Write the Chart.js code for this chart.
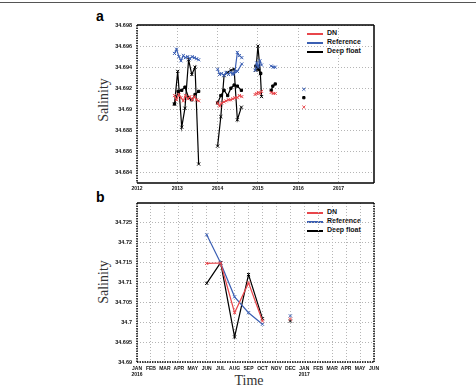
<!DOCTYPE html>
<html>
<head>
<meta charset="utf-8">
<script src="https://cdn.jsdelivr.net/npm/chart.js@4.4.1/dist/chart.umd.min.js"></script>
<style>
    body { margin: 0; background: #fff; }
    #wrap { position: relative; width: 476px; height: 388px; overflow: hidden; background: #fff; }
    canvas { position: absolute; left: 0; }
    .rule { position: absolute; left: 0; top: 2px; width: 476px; height: 1px; background: #555; }
    .panel { position: absolute; font: bold 14px 'Liberation Sans', Arial, sans-serif; color: #000; }
    .ytitle { position: absolute; width: 80px; text-align: center; font: 14px 'Liberation Serif', 'DejaVu Serif', serif; color: #333; transform: rotate(-90deg); }
    .xtitle { position: absolute; width: 80px; text-align: center; font: 14px 'Liberation Serif', 'DejaVu Serif', serif; color: #333; }
    .leg { position: absolute; left: 307px; width: 330px; height: 10px; }
    .leg i { position: absolute; left: 0; top: 4px; width: 16px; height: 2px; }
    .leg span { position: absolute; left: 20px; top: 0; line-height: 10px; font: bold 7px 'Liberation Sans', Arial, sans-serif; color: #111; }
</style>
</head>
<body>
<div id="wrap">
    <div class="rule"></div>
    <div class="panel" style="left:96px;top:8px;">a</div>
    <div class="panel" style="left:96px;top:189px;">b</div>
    <div class="ytitle" style="left:64px;top:92px;">Salinity</div>
    <div class="ytitle" style="left:64px;top:274px;">Salinity</div>
    <div class="xtitle" style="left:209px;top:373px;">Time</div>

    <div class="leg" style="top:29px;"><i style="background:#e8464b"></i><span>DN</span></div>
    <div class="leg" style="top:38px;"><i style="background:#3b5fb3"></i><span>Reference</span></div>
    <div class="leg" style="top:47px;"><i style="background:#000"></i><span>Deep float</span></div>

    <div class="leg" style="top:208px;"><i style="background:#e8464b"></i><span>DN</span></div>
    <div class="leg" style="top:217px;"><i style="background:#3b5fb3"></i><span>Reference</span></div>
    <div class="leg" style="top:226px;"><i style="background:#000"></i><span>Deep float</span></div>

    <canvas id="chartA" width="476" height="194" style="top:0;"></canvas>
    <canvas id="chartB" width="476" height="194" style="top:194px;"></canvas>
</div>

<script>
// ---- panel a : yearly series (null = gap between deployments) ----
const yearTicks = [2012, 2013, 2014, 2015, 2016, 2017];
const salTicksA = [34.684, 34.686, 34.688, 34.69, 34.692, 34.694, 34.696, 34.698];

const dnTime = [2012.93, 2012.98, 2013.04, 2013.09, 2013.15, 2013.2, 2013.26, 2013.31, 2013.37, 2013.42, 2013.48, 2013.53, null,
    2014.0, 2014.05, 2014.1, 2014.16, 2014.21, 2014.27, 2014.32, 2014.38, 2014.43, 2014.49, 2014.54, 2014.6, null,
    2014.93, 2014.97, 2015.01, 2015.05, 2015.09, null,
    2015.33, 2015.38, 2015.43, null,
    2016.14];
const dnSal = [34.6913, 34.6909, 34.6914, 34.6911, 34.6908, 34.6913, 34.6910, 34.6912, 34.6909, 34.6912, 34.6909, 34.6908, null,
    34.6906, 34.6903, 34.6906, 34.6907, 34.6908, 34.6909, 34.6909, 34.6910, 34.6911, 34.6911, 34.6913, 34.6912, null,
    34.6914, 34.6915, 34.6916, 34.6915, 34.6917, null,
    34.6916, 34.6915, 34.6915, null,
    34.6902];

const refTime = dnTime;
const refSal = [34.6953, 34.6957, 34.6950, 34.6946, 34.6951, 34.6949, 34.6950, 34.6948, 34.6950, 34.6949, 34.6948, 34.6947, null,
    34.6938, 34.6933, 34.6934, 34.6932, 34.6935, 34.6933, 34.6935, 34.6934, 34.6936, 34.6954, 34.6951, 34.6949, null,
    34.6937, 34.6944, 34.6940, 34.6946, 34.6942, null,
    34.6941, 34.6940, 34.6940, null,
    34.6919];
const ref2Time = [2014.38, 2014.49, 2014.6];
const ref2Sal = [34.6933, 34.6936, 34.6943];

const deepTime = [2012.93, 2013.01, 2013.11, 2013.19, 2013.28, 2013.36, 2013.44, 2013.53, null,
    2014.0, 2014.08, 2014.16, 2014.25, 2014.33, 2014.41, 2014.49, 2014.59, null,
    2014.95, 2015.0, 2015.06, 2015.09];
const deepSal = [34.6905, 34.6936, 34.6883, 34.6901, 34.6947, 34.6933, 34.6940, 34.6848, null,
    34.6865, 34.6893, 34.6932, 34.6935, 34.6937, 34.6938, 34.6890, 34.6902, null,
    34.6937, 34.6960, 34.6934, 34.6912];

const deep2Time = [2012.93, 2013.02, 2013.11, 2013.19, 2013.28, 2013.36, 2013.44, 2013.53, null,
    2014.0, 2014.08, 2014.16, 2014.25, 2014.33, 2014.41, 2014.49, 2014.59, null,
    2014.95, 2015.02, 2015.07, null,
    2015.33, 2015.37, 2015.43, null,
    2016.14];
const deep2Sal = [34.6905, 34.6917, 34.6918, 34.6921, 34.6911, 34.6909, 34.6914, 34.6917, null,
    34.6906, 34.6913, 34.6918, 34.6913, 34.6920, 34.6923, 34.6922, 34.6918, null,
    34.6941, 34.6938, 34.6934, null,
    34.6918, 34.6922, 34.6924, null,
    34.6911];

// ---- panel b : monthly, index 0 = JAN 2016 ----
const monthLabels = ['JAN', 'FEB', 'MAR', 'APR', 'MAY', 'JUN', 'JUL', 'AUG', 'SEP', 'OCT', 'NOV', 'DEC',
    'JAN', 'FEB', 'MAR', 'APR', 'MAY', 'JUN'];
const monthYears = ['2016', '', '', '', '', '', '', '', '', '', '', '', '2017', '', '', '', '', ''];
const salTicksB = [34.69, 34.695, 34.7, 34.705, 34.71, 34.715, 34.72, 34.725];

const monthsB = [5, 6, 7, 8, 9, null, 11];
const dnB = [34.7148, 34.7149, 34.7024, 34.7099, 34.7003, null, 34.7008];
const refB = [34.7220, 34.7149, 34.7064, 34.7024, 34.6995, null, 34.7016];
const deepB = [34.7098, 34.7150, 34.6963, 34.7120, 34.7009, null, 34.7003];

const colors = {
    dn: '#e8464b',
    ref: '#3b5fb3',
    deep: '#000000',
    grid: '#b5b5b5'
};

const yFont = { family: "'Liberation Sans', Arial, sans-serif", size: 5.5, weight: 'bold' };
const xFont = { family: "'Liberation Sans', Arial, sans-serif", size: 5, weight: 'bold', lineHeight: 1.1 };

function pts(t, s) {
    return t.map((x, i) => ({ x: x, y: s[i] }));
}

function series(label, t, s, color, style) {
    return {
        label: label,
        data: pts(t, s),
        borderColor: color,
        backgroundColor: color,
        borderWidth: 1.2,
        pointStyle: style || 'crossRot',
        pointRadius: style === 'rect' ? 1.6 : 2.2,
        pointBorderWidth: 1,
        tension: 0,
        spanGaps: false
    };
}

// frame drawn side by side: solid or dotted
const framePlugin = {
    id: 'frame',
    afterDraw(chart, args, opts) {
        const a = chart.chartArea;
        const ctx = chart.ctx;
        const sides = {
            top: [a.left, a.top, a.right, a.top],
            right: [a.right, a.top, a.right, a.bottom],
            bottom: [a.left, a.bottom, a.right, a.bottom],
            left: [a.left, a.top, a.left, a.bottom]
        };
        ctx.save();
        ctx.strokeStyle = '#000';
        ctx.lineWidth = 1.5;
        Object.keys(sides).forEach(k => {
            const p = sides[k];
            ctx.setLineDash(opts[k] === 'dot' ? [1.5, 1] : []);
            ctx.beginPath();
            ctx.moveTo(p[0], p[1]);
            ctx.lineTo(p[2], p[3]);
            ctx.stroke();
        });
        ctx.restore();
    }
};

function trim(v) {
    return String(+(+v).toFixed(3));
}

document.addEventListener('DOMContentLoaded', function() {

    new Chart(document.getElementById('chartA'), {
        type: 'line',
        data: {
            datasets: [
                series('DN', dnTime, dnSal, colors.dn),
                series('Reference', refTime, refSal, colors.ref),
                series('Reference 2', ref2Time, ref2Sal, colors.ref),
                series('Deep float', deepTime, deepSal, colors.deep),
                series('Deep float 2', deep2Time, deep2Sal, colors.deep, 'rect')
            ]
        },
        options: {
            responsive: false,
            animation: false,
            layout: { padding: { top: 25, right: 102, left: 0, bottom: 0 } },
            plugins: {
                legend: { display: false },
                tooltip: { enabled: false },
                frame: { top: 'solid', right: 'solid', bottom: 'solid', left: 'dot' }
            },
            scales: {
                x: {
                    type: 'linear',
                    min: 2012,
                    max: 2017.88,
                    afterBuildTicks: s => { s.ticks = yearTicks.map(v => ({ value: v })); },
                    afterFit: s => { s.height = 11; },
                    ticks: { font: xFont, color: '#111', padding: 3, maxRotation: 0, callback: v => String(v) },
                    grid: { color: colors.grid, drawTicks: false },
                    border: { display: false, dash: [1, 2] }
                },
                y: {
                    min: 34.683,
                    max: 34.698,
                    afterBuildTicks: s => { s.ticks = salTicksA.map(v => ({ value: v })); },
                    afterFit: s => { s.width = 137; },
                    ticks: { font: yFont, color: '#111', padding: 5, callback: v => trim(v) },
                    grid: { color: colors.grid, drawTicks: false },
                    border: { display: false, dash: [1, 2] }
                }
            }
        },
        plugins: [framePlugin]
    });

    new Chart(document.getElementById('chartB'), {
        type: 'line',
        data: {
            datasets: [
                series('DN', monthsB, dnB, colors.dn),
                series('Reference', monthsB, refB, colors.ref),
                series('Deep float', monthsB, deepB, colors.deep)
            ]
        },
        options: {
            responsive: false,
            animation: false,
            layout: { padding: { top: 9, right: 102, left: 0, bottom: 0 } },
            plugins: {
                legend: { display: false },
                tooltip: { enabled: false },
                frame: { top: 'solid', right: 'dot', bottom: 'dot', left: 'dot' }
            },
            scales: {
                x: {
                    type: 'linear',
                    min: 0,
                    max: 17,
                    afterBuildTicks: s => { s.ticks = monthLabels.map((m, i) => ({ value: i })); },
                    afterFit: s => { s.height = 26; },
                    ticks: {
                        font: xFont,
                        color: '#111',
                        padding: 4,
                        maxRotation: 0,
                        autoSkip: false,
                        callback: v => monthYears[v] ? [monthLabels[v], monthYears[v]] : monthLabels[v]
                    },
                    grid: { color: colors.grid, drawTicks: false },
                    border: { display: false, dash: [1, 2] }
                },
                y: {
                    min: 34.69,
                    max: 34.73,
                    afterBuildTicks: s => { s.ticks = salTicksB.map(v => ({ value: v })); },
                    afterFit: s => { s.width = 137; },
                    ticks: { font: yFont, color: '#111', padding: 5, callback: v => trim(v) },
                    grid: { color: colors.grid, drawTicks: false },
                    border: { display: false, dash: [1, 2] }
                }
            }
        },
        plugins: [framePlugin]
    });
});
</script>
</body>
</html>
